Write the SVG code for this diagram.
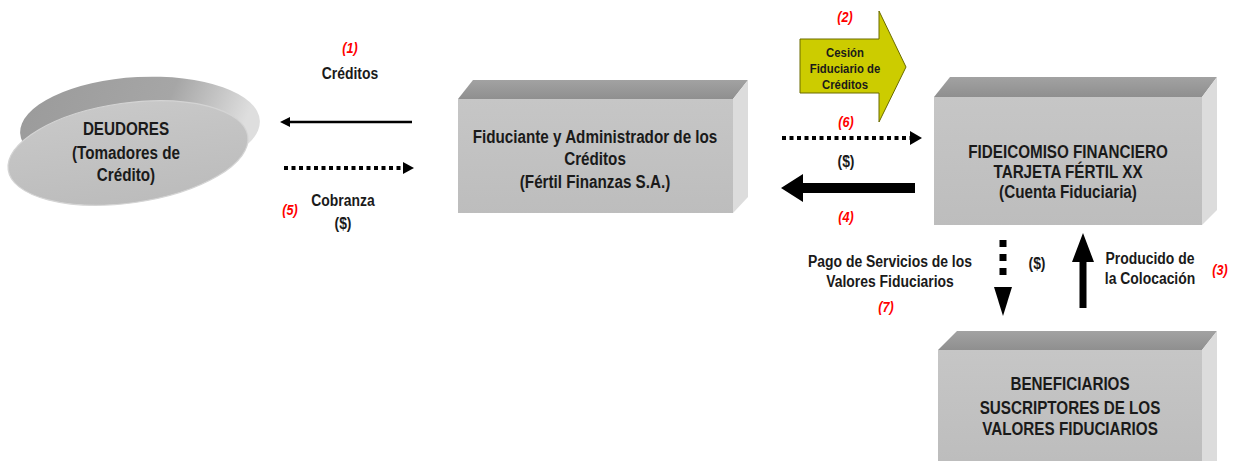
<svg xmlns="http://www.w3.org/2000/svg" width="1242" height="461" viewBox="0 0 1242 461">
<style>
.t{font-family:"Liberation Sans",Arial,sans-serif;font-weight:bold;fill:#1a1a1a;text-anchor:middle}
.b{font-size:17.5px}
.l{font-size:16px}
.y{font-size:13.5px}
.r{font-family:"Liberation Sans",Arial,sans-serif;font-weight:bold;font-style:italic;fill:#ff0000;text-anchor:middle;font-size:14.5px}
.front{fill:url(#gFront)}
.top{fill:url(#gTop)}
.side{fill:#dcdcdc}
.solid{stroke:#000;fill:none}
.dot{stroke:#000;fill:none}
.head{fill:#000}
</style>
<defs>
<linearGradient id="gFront" x1="0" y1="0" x2="0" y2="1"><stop offset="0" stop-color="#c6c6c6"/><stop offset="1" stop-color="#bdbdbd"/></linearGradient>
<linearGradient id="gTop" x1="0" y1="0" x2="0" y2="1"><stop offset="0" stop-color="#a2a2a2"/><stop offset="1" stop-color="#8f8f8f"/></linearGradient>
<linearGradient id="gDisc" x1="0" y1="0" x2="1" y2="0.2"><stop offset="0" stop-color="#9a9a9a"/><stop offset="0.65" stop-color="#a6a6a6"/><stop offset="1" stop-color="#dedede"/></linearGradient>
<linearGradient id="gFace" x1="0" y1="0" x2="0" y2="1"><stop offset="0" stop-color="#c8c8c8"/><stop offset="1" stop-color="#bcbcbc"/></linearGradient>
</defs>

<g id="deudores">
<ellipse cx="140" cy="127" rx="120" ry="50" transform="rotate(-3 140 127)" fill="url(#gDisc)"/>
<ellipse cx="128" cy="153" rx="121" ry="50" transform="rotate(-8 128 153)" fill="url(#gFace)" stroke="#d4d4d4" stroke-width="1.2"/>
<text class="t b" transform="translate(126 135) scale(0.87 1)">DEUDORES</text>
<text class="t b" transform="translate(126 159) scale(0.87 1)">(Tomadores de</text>
<text class="t b" transform="translate(126 181) scale(0.87 1)">Crédito)</text>
</g>

<g id="fiduciante">
<polygon class="top" points="458,99 473,80 748,80 733,99"/>
<polygon class="side" points="733,99 748,80 748,197 733,213"/>
<rect class="front" x="458" y="99" width="275" height="114"/>
<text class="t b" transform="translate(595 143) scale(0.87 1)">Fiduciante y Administrador de los</text>
<text class="t b" transform="translate(595 165) scale(0.87 1)">Créditos</text>
<text class="t b" transform="translate(595 188) scale(0.87 1)">(Fértil Finanzas S.A.)</text>
</g>

<g id="fideicomiso">
<polygon class="top" points="934,97 950,77 1217,77 1202,97"/>
<polygon class="side" points="1202,97 1217,77 1217,210 1202,225"/>
<rect class="front" x="934" y="97" width="268" height="128"/>
<text class="t b" transform="translate(1068 158) scale(0.87 1)">FIDEICOMISO FINANCIERO</text>
<text class="t b" transform="translate(1068 178) scale(0.87 1)">TARJETA FÉRTIL XX</text>
<text class="t b" transform="translate(1068 198) scale(0.87 1)">(Cuenta Fiduciaria)</text>
</g>

<g id="beneficiarios">
<polygon class="top" points="938,350 957,331 1217,331 1202,350"/>
<polygon class="side" points="1202,350 1217,331 1217,461 1202,461"/>
<rect class="front" x="938" y="350" width="264" height="111"/>
<text class="t b" transform="translate(1070 390) scale(0.87 1)">BENEFICIARIOS</text>
<text class="t b" transform="translate(1070 414) scale(0.87 1)">SUSCRIPTORES DE LOS</text>
<text class="t b" transform="translate(1070 435) scale(0.87 1)">VALORES FIDUCIARIOS</text>
</g>

<g id="cesion">
<polygon points="800,39 879,39 879,11 906,67 879,122 879,93 800,93" fill="#cccc00" stroke="#6b6b00" stroke-width="1"/>
<text class="t y" transform="translate(845 57) scale(0.84 1)">Cesión</text>
<text class="t y" transform="translate(845 73) scale(0.84 1)">Fiduciario de</text>
<text class="t y" transform="translate(845 89) scale(0.84 1)">Créditos</text>
</g>

<g id="connectors">
<line class="solid" x1="412" y1="122" x2="288" y2="122" stroke-width="2.5"/>
<polygon class="head" points="280,122 290,117 290,127"/>
<line class="dot" x1="284" y1="168" x2="404" y2="168" stroke-width="4" stroke-dasharray="4 3.5"/>
<polygon class="head" points="414,168 403,162 403,174"/>
<line class="dot" x1="782" y1="138" x2="910" y2="138" stroke-width="4" stroke-dasharray="4 3.5"/>
<polygon class="head" points="922,138 910,131 910,145"/>
<path class="head" d="M915,183 L803,183 L803,174 L781,188 L803,202 L803,193 L915,193 Z"/>
<line class="dot" x1="1003" y1="240" x2="1003" y2="280" stroke-width="7" stroke-dasharray="7 7"/>
<polygon class="head" points="994,287 1012,287 1003,316"/>
<path class="head" d="M1079.5,308 L1079.5,262 L1072,262 L1083,233 L1094,262 L1086.5,262 L1086.5,308 Z"/>
</g>

<g id="labels">
<text class="r" transform="translate(350 53) scale(0.87 1)">(1)</text>
<text class="t l" transform="translate(350 79) scale(0.87 1)">Créditos</text>
<text class="t l" transform="translate(343 206) scale(0.87 1)">Cobranza</text>
<text class="t l" transform="translate(343 229) scale(0.87 1)">($)</text>
<text class="r" transform="translate(290 215) scale(0.87 1)">(5)</text>
<text class="r" transform="translate(845 22) scale(0.87 1)">(2)</text>
<text class="r" transform="translate(846 127) scale(0.87 1)">(6)</text>
<text class="t l" transform="translate(846 167) scale(0.87 1)">($)</text>
<text class="r" transform="translate(846 222) scale(0.87 1)">(4)</text>
<text class="t l" transform="translate(890 267) scale(0.87 1)">Pago de Servicios de los</text>
<text class="t l" transform="translate(890 287) scale(0.87 1)">Valores Fiduciarios</text>
<text class="r" transform="translate(886 312) scale(0.87 1)">(7)</text>
<text class="t l" transform="translate(1037 269) scale(0.87 1)">($)</text>
<text class="t l" transform="translate(1150 264) scale(0.87 1)">Producido de</text>
<text class="t l" transform="translate(1150 284) scale(0.87 1)">la Colocación</text>
<text class="r" transform="translate(1220 275) scale(0.87 1)">(3)</text>
</g>
</svg>
